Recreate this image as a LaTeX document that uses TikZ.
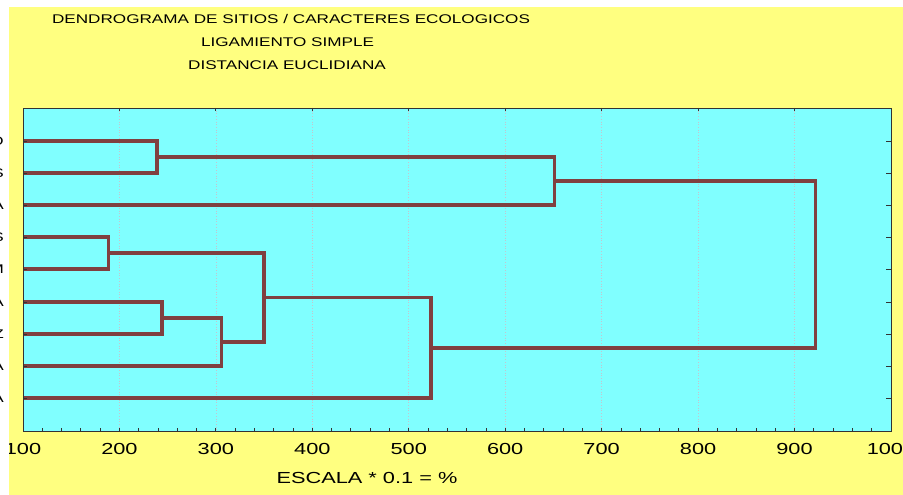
\documentclass[tikz,border=0pt]{standalone}
\usepackage{fontspec}
\setmainfont{Liberation Sans}
\newfontfamily\chartfont[FakeStretch=1.36]{Liberation Sans}
\usetikzlibrary{calc}
\newcommand{\xv}[1]{0.9644*#1-73.44}
\definecolor{panelyellow}{RGB}{255,255,128}
\definecolor{plotcyan}{RGB}{128,255,255}
\definecolor{linkbrown}{RGB}{128,64,64}
\definecolor{gridgray}{RGB}{196,196,206}

\begin{document}
\begin{tikzpicture}[x=1pt,y=-1pt,
    link/.style={linkbrown,line width=3.3pt,line join=miter},
    tick/.style={black!80,line width=0.8pt},
    grid line/.style={gridgray,dotted,line width=0.7pt},
    titletext/.style={font=\chartfont\fontsize{12.6}{14}\selectfont,anchor=base,inner sep=0pt},
    axistext/.style={font=\chartfont\fontsize{16}{18}\selectfont,anchor=base,inner sep=0pt}]
                    \useasboundingbox (0,0) rectangle (903,495);
                    \fill[white] (0,0) rectangle (903,495);
                    \fill[panelyellow] (9,7) rectangle (903,495);
                    \fill[plotcyan] (23,108) rectangle (891,431);
                    \foreach \v in {200,300,...,900}{
                    \draw[grid line] ({\xv{\v}},108) -- ({\xv{\v}},431);
                    }
                    % leaves
                    \foreach \y [count=\i] in {141,173,205,237,269,302,334,366,398}{
                    \coordinate (l\i) at (23,\y);
                    }
                    % merges
                    \coordinate (m12) at ({\xv{239}},157);
                    \coordinate (m45) at ({\xv{189}},253);
                    \coordinate (m67) at ({\xv{244}},318);
                    \coordinate (m678) at ({\xv{306}},342);
                    \coordinate (m4to8) at ({\xv{350}},297.5);
                    \coordinate (m123) at ({\xv{651}},181);
                    \coordinate (m4to9) at ({\xv{523}},348);
                    \coordinate (root) at ({\xv{922}},264.5);
                    \draw[link] (l1) -| (m12) |- (l2);
                    \draw[link] (m12) -| (m123) |- (l3);
                    \draw[link] (l4) -| (m45) |- (l5);
                    \draw[link] (l6) -| (m67) |- (l7);
                    \draw[link] (m67) -| (m678) |- (l8);
                    \draw[link] (m45) -| (m4to8) |- (m678);
                    \draw[link] (m4to8) -| (m4to9) |- (l9);
                    \draw[link] (m123) -| (root) |- (m4to9);
                    % frame and ticks
                    \draw[black!80,line width=0.9pt] (23,108) rectangle (891,431);
                    \foreach \y in {141,173,205,237,269,302,334,366,398}{
                    \draw[tick] (23,\y) -- ++(4,0);
                    \draw[tick] (891,\y) -- ++(-5,0);
                    }
                    \foreach \v in {120,140,...,980}{
                    \draw[tick] ({\xv{\v}},431) -- ++(0,-3);
                    }
                    \foreach \v in {200,300,...,900}{
                    \draw[tick] ({\xv{\v}},108) -- ++(0,3);
                    }
                    \foreach \v in {100,200,...,1000}{
                    \node[axistext] (t\v) at ({\xv{\v}},454) {\v};
                    }
                    \fill[white] (0,0) rectangle (9,495);
                    \foreach \y/\s [count=\i] in {141/O,173/S,205/A,237/S,269/M,302/A,334/Z,366/A,398/A}{
                    \node[font=\chartfont\fontsize{12.6}{14}\selectfont,anchor=east,inner sep=0pt] (r\i) at (4,\y) {\s};
                    }
                    % titles
                    \node[titletext] (title1) at (291,24) {DENDROGRAMA DE SITIOS / CARACTERES ECOLOGICOS};
                    \node[titletext] (title2) at (287.5,47) {LIGAMIENTO SIMPLE};
                    \node[titletext] (title3) at (287,70) {DISTANCIA EUCLIDIANA};
                    \node[axistext] (scale) at (367,483) {ESCALA * 0.1 = \%};
                    \end{tikzpicture}
\end{document}
